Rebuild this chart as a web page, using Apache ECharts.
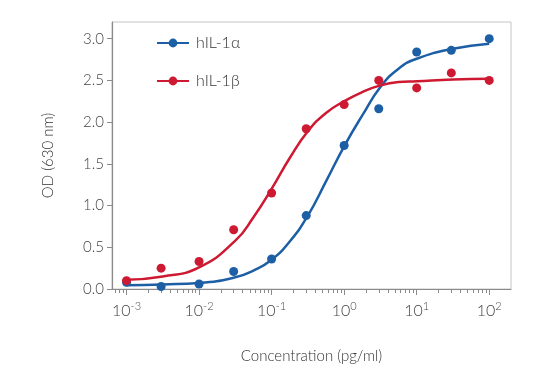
<!DOCTYPE html>
<html><head><meta charset="utf-8">
<script src="https://cdn.jsdelivr.net/npm/echarts@6/dist/echarts.min.js"></script>
<style>html,body{margin:0;padding:0;background:#fff}#c{width:550px;height:389px}</style>
</head><body><div id="c"></div>
<script>
// Data (concentration in pg/ml, OD at 630 nm)
const conc = [0.001, 0.003, 0.01, 0.03, 0.1, 0.3, 1, 3, 10, 30, 100];
const alphaOD = [0.08, 0.03, 0.06, 0.21, 0.36, 0.88, 1.72, 2.16, 2.84, 2.86, 3.00];
const betaOD  = [0.10, 0.25, 0.33, 0.71, 1.15, 1.92, 2.21, 2.50, 2.41, 2.59, 2.50];
// fitted curves (log10 concentration -> OD)
const fitLogX   = [-3, -2.5, -2, -1.5, -1.25, -1, -0.75, -0.5, -0.25, 0, 0.25, 0.5, 0.75, 1, 1.5, 2];
const alphaFit  = [0.045, 0.055, 0.072, 0.14, 0.22, 0.35, 0.57, 0.88, 1.29, 1.71, 2.08, 2.42, 2.64, 2.76, 2.88, 2.94];
const betaFit   = [0.11, 0.15, 0.26, 0.58, 0.86, 1.20, 1.57, 1.89, 2.11, 2.25, 2.36, 2.44, 2.48, 2.49, 2.51, 2.52];
const majorTicks = [1e-3, 1e-2, 1e-1, 1, 10, 100];
const yTicks = [0, 0.5, 1.0, 1.5, 2.0, 2.5, 3.0];
const seriesNames = ['hIL-1\u03b1', 'hIL-1\u03b2'];
const colors = ['#1c5fa5', '#cd1a32'];

const minorTicks = [];
for (let e = -4; e <= 2; e++) for (let k = 2; k <= 9; k++) minorTicks.push(k * Math.pow(10, e));

const FONT = 'Lato';
const W = 300;
const xMin = Math.pow(10, -3.2), xMax = Math.pow(10, 2.3);
const pairs = (xs, ys) => xs.map((x, i) => [x, ys[i]]);
const fitPairs = (ys) => fitLogX.map((lx, i) => [Math.pow(10, lx), ys[i]]);

const chart = echarts.init(document.getElementById('c'), null, {renderer: 'canvas'});
chart.setOption({
  animation: false,
  textStyle: {fontFamily: FONT, fontWeight: W},
  grid: {left: 112, right: 39, top: 22, bottom: 100, show: true, borderColor: '#c4c4c4', borderWidth: 1},
  legend: {
    orient: 'vertical', left: 151, top: 30, itemGap: 22, itemWidth: 32, itemHeight: 11,
    data: seriesNames,
    textStyle: {fontFamily: FONT, fontWeight: W, fontSize: 16, color: '#333', padding: [0, 0, 0, 2]}
  },
  xAxis: [{
    type: 'log', logBase: 10, min: xMin, max: xMax,
    name: 'Concentration (pg/ml)', nameLocation: 'middle', nameGap: 60,
    nameTextStyle: {fontFamily: FONT, fontWeight: W, fontSize: 15, color: '#333'},
    axisLine: {lineStyle: {color: '#8a8a8a', width: 1.2}},
    axisTick: {customValues: majorTicks, length: 6, lineStyle: {color: '#8a8a8a'}},
    axisLabel: {
      customValues: majorTicks, margin: 12, color: '#444',
      formatter: v => '{b|10}{s|' + Math.round(Math.log10(v)) + '}',
      rich: {b: {fontFamily: FONT, fontWeight: W, fontSize: 16, color: '#444'}, s: {fontFamily: FONT, fontWeight: W, fontSize: 11, color: '#444', verticalAlign: 'top', padding: [0, 0, 9, 0]}}
    },
    splitLine: {show: false}
  }, {
    type: 'log', logBase: 10, min: xMin, max: xMax, position: 'bottom',
    axisLine: {show: false},
    axisTick: {customValues: minorTicks, length: 4, lineStyle: {color: '#8a8a8a'}},
    axisLabel: {show: false}, splitLine: {show: false}
  }],
  yAxis: {
    type: 'value', min: 0, max: 3.2,
    name: 'OD (630 nm)', nameLocation: 'middle', nameGap: 56,
    nameTextStyle: {fontFamily: FONT, fontWeight: W, fontSize: 15, color: '#333'},
    axisLine: {show: true, lineStyle: {color: '#8a8a8a', width: 1.2}},
    axisTick: {show: true, customValues: yTicks, length: 5, lineStyle: {color: '#8a8a8a'}},
    axisLabel: {customValues: yTicks, margin: 8, fontSize: 15, fontWeight: W, color: '#444', formatter: v => v.toFixed(1)},
    splitLine: {show: false}
  },
  series: [
    {name: seriesNames[0], type: 'line', data: fitPairs(alphaFit), smooth: 0.5, symbol: 'circle', symbolSize: 8, showSymbol: false,
     lineStyle: {color: colors[0], width: 2.5}, itemStyle: {color: colors[0]}, z: 2},
    {name: seriesNames[1], type: 'line', data: fitPairs(betaFit), smooth: 0.5, symbol: 'circle', symbolSize: 8, showSymbol: false,
     lineStyle: {color: colors[1], width: 2.5}, itemStyle: {color: colors[1]}, z: 2},
    {name: seriesNames[0] + ' data', type: 'scatter', data: pairs(conc, alphaOD), symbolSize: 9, itemStyle: {color: colors[0], opacity: 1}, z: 3},
    {name: seriesNames[1] + ' data', type: 'scatter', data: pairs(conc, betaOD), symbolSize: 9, itemStyle: {color: colors[1], opacity: 1}, z: 4}
  ]
});
</script></body></html>
